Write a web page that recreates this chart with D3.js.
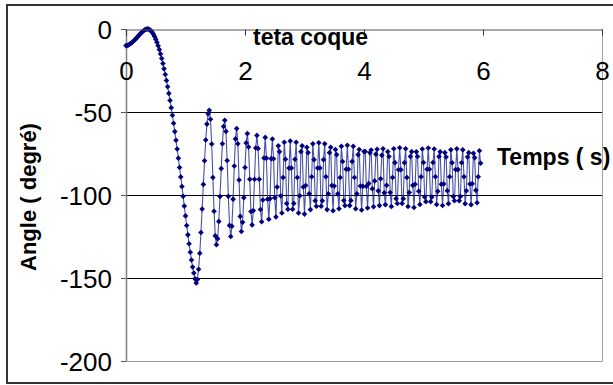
<!DOCTYPE html>
<html>
<head>
<meta charset="utf-8">
<script src="https://cdn.jsdelivr.net/npm/d3@7"></script>
<style>
  html, body { margin: 0; padding: 0; background: #fff; }
  svg { display: block; font-family: Arial, "Liberation Sans", sans-serif; }
</style>
</head>
<body>
<svg id="chart" width="613" height="385"></svg>
<script>
// time between two samples, in seconds
const sampleStep = 0.02;

// hull angle (degrees)
const angleRelease = [
  -10, -9.9, -9.6, -9.2, -8.7, -8.1, -7.5, -6.8, -6.1, -5.3,
  -4.5, -3.7, -2.9, -2.2, -1.5, -0.9, -0.4, -0.1, 0, -0.1,
  -0.5, -1.1, -2, -3.1, -4.5, -6.1, -8, -10.1, -12.4, -15,
  -17.8, -20.8, -24, -27.4, -31, -34.8, -38.8, -43, -47.4, -52,
  -56.8, -61.8, -67, -72.3, -77.8, -83.4, -89.1, -94.9, -100.8, -106.7,
  -112.6, -118.4, -124, -129.4, -134.5, -139.2, -143.4, -147, -150.5
];
const angleFirstSwings = [
  -153, -150.9, -144.7, -135.1, -122.6, -108.4, -93.6, -79.4, -66.9, -57.3,
  -51.1, -49, -54.4, -69.3, -89.5, -109.8, -124.6, -130, -126.3, -115.9,
  -100.9, -84.1, -69.1, -58.7, -55, -61.7, -79.2, -100.8, -118.3, -125,
  -118.8, -102.5, -82.5, -66.2, -60, -69.1, -91, -112.9, -122, -116.4,
  -101.6, -83.4, -68.6, -63, -71.1, -90.5, -109.9, -118, -109.4, -90.5,
  -71.7, -64.1, -72, -90.5, -108.7, -116.1, -103, -77.7, -65.3, -77.8,
  -102.5, -114.6, -102.2, -78.1, -66.3, -78.2, -101.7, -113.2
];
const angleSettling = [
  -95.2, -70.4, -73.9, -100.5, -110.8, -89.5, -68.2, -78.5, -105.1, -108.6,
  -83.8, -67.5, -83.8, -108.6, -105.1, -78.5, -68.2, -89.5, -110.8, -100.5,
  -73.9, -70.4, -95.2, -111.5,
  -94.3, -71.2, -74.5, -99.3, -108.8, -89, -69.2, -78.7, -103.5, -106.8,
  -83.7, -68.5, -83.7, -106.8, -103.5, -78.7, -69.2, -89, -108.8, -99.3,
  -74.5, -71.2, -94.3, -109.5,
  -94.6, -72.6, -75.7, -99.3, -108.3, -89.5, -70.7, -79.8, -103.3, -106.4,
  -84.5, -70, -84.5, -106.4, -103.3, -79.8, -70.7, -89.5, -108.3, -99.3,
  -75.7, -72.6, -94.6, -109,
  -94.8, -73.8, -73.8, -94.8, -107.8, -93.1, -74.6, -72.9, -96.2, -107.1,
  -91.5, -75.4, -72.4, -97.5, -106.4, -90.2, -76.1, -72.1, -98.7, -105.8,
  -94.2, -73.9, -76.8, -98.5, -106.9, -89.5, -72.1, -80.5, -102.2, -105.1,
  -84.8, -71.5, -84.8, -105.1, -102.2, -80.5, -72.1, -89.5, -106.9, -98.5,
  -76.8, -73.9, -94.2, -107.5,
  -93.5, -74, -76.8, -97.7, -105.7, -89, -72.3, -80.4, -101.2, -104,
  -84.5, -71.7, -84.5, -104, -101.2, -80.4, -72.3, -89, -105.7, -97.7,
  -76.8, -74, -93.5, -106.3,
  -93.4, -74.5, -77.1, -97.4, -105.2, -89, -72.8, -80.6, -100.9, -103.5,
  -84.7, -72.2, -84.7, -103.5, -100.9, -80.6, -72.8, -89, -105.2, -97.4,
  -77.1, -74.5, -93.4, -105.8,
  -93.2, -74.9, -77.5, -97.2, -104.7, -89, -73.3, -80.9
];

const xTicks = [0, 2, 4, 6, 8];
const yTicks = [0, -50, -100, -150, -200];

const chartTitle = 'teta coque';
const xTitle = 'Temps ( s)';
const yTitle = 'Angle ( degré)';

const navy = '#000080';
const plot = { left: 126, right: 602, top: 29, bottom: 361 };

const angles = angleRelease.concat(angleFirstSwings, angleSettling);
const series = angles.map((v, i) => ({ t: i * sampleStep, v: v }));

const svg = d3.select('#chart');

// outer chart frame (its right side falls just outside the picture)
svg.append('rect')
  .attr('x', 7).attr('y', 5)
  .attr('width', 612).attr('height', 378)
  .attr('fill', '#fff')
  .attr('stroke', '#333')
  .attr('stroke-width', 2);

const x = d3.scaleLinear().domain([0, 8]).range([plot.left, plot.right]);
const y = d3.scaleLinear().domain([-200, 0]).range([plot.bottom, plot.top]);

// horizontal gridlines
svg.append('g')
  .selectAll('line')
  .data(yTicks.filter(d => d < 0 && d > -200))
  .enter().append('line')
  .attr('x1', plot.left).attr('x2', plot.right)
  .attr('y1', d => Math.round(y(d)) + 0.5)
  .attr('y2', d => Math.round(y(d)) + 0.5)
  .attr('stroke', '#000')
  .attr('stroke-width', 1);

// y axis
const yAxis = svg.append('g')
  .attr('transform', `translate(${plot.left},0)`)
  .call(d3.axisLeft(y)
    .tickValues(yTicks)
    .tickSize(5)
    .tickSizeOuter(0)
    .tickPadding(9)
    .tickFormat(d => String(d)));
yAxis.attr('font-family', null).attr('font-size', null);
yAxis.select('.domain').attr('stroke', '#808080').attr('stroke-width', 1.5);
yAxis.selectAll('.tick line').attr('stroke', '#555');
yAxis.selectAll('.tick text').attr('font-size', 26).attr('fill', '#000').attr('dy', '0.36em');

// the series
const line = d3.line()
  .x(d => x(d.t))
  .y(d => y(d.v));

svg.append('path')
  .datum(series)
  .attr('d', line)
  .attr('fill', 'none')
  .attr('stroke', '#1a2590')
  .attr('stroke-width', 1.1)
  .attr('stroke-opacity', 0.8);

const diamond = 'M0,-2.8L2.8,0L0,2.8L-2.8,0Z';
svg.append('g')
  .selectAll('path')
  .data(series)
  .enter().append('path')
  .attr('d', diamond)
  .attr('transform', d => `translate(${x(d.t)},${y(d.v)})`)
  .attr('fill', navy);

// plot area edges (right and bottom, light grey)
svg.append('path')
  .attr('d', `M${plot.left},${plot.bottom + 0.5}H${plot.right + 0.5}V${plot.top}`)
  .attr('fill', 'none')
  .attr('stroke', '#a0a0a0')
  .attr('stroke-width', 1);

// x axis, crossing at angle 0 (top of the plot)
const xAxis = svg.append('g')
  .attr('transform', `translate(0,${plot.top + 0.5})`)
  .call(d3.axisBottom(x)
    .tickValues(xTicks)
    .tickSize(6)
    .tickSizeOuter(0)
    .tickPadding(26)
    .tickFormat(d => String(d)));
xAxis.attr('font-family', null).attr('font-size', null);
xAxis.select('.domain').attr('stroke', '#555');
xAxis.selectAll('.tick line').attr('stroke', '#333');
xAxis.selectAll('.tick text').attr('font-size', 26).attr('fill', '#000');

// titles
svg.append('text')
  .attr('x', 253).attr('y', 45)
  .attr('font-size', 23)
  .attr('font-weight', 'bold')
  .text(chartTitle);

svg.append('text')
  .attr('x', 497).attr('y', 165)
  .attr('font-size', 23)
  .attr('font-weight', 'bold')
  .text(xTitle);

svg.append('text')
  .attr('transform', 'translate(36,197) rotate(-90)')
  .attr('text-anchor', 'middle')
  .attr('font-size', 22)
  .attr('font-weight', 'bold')
  .text(yTitle);
</script>
</body>
</html>
